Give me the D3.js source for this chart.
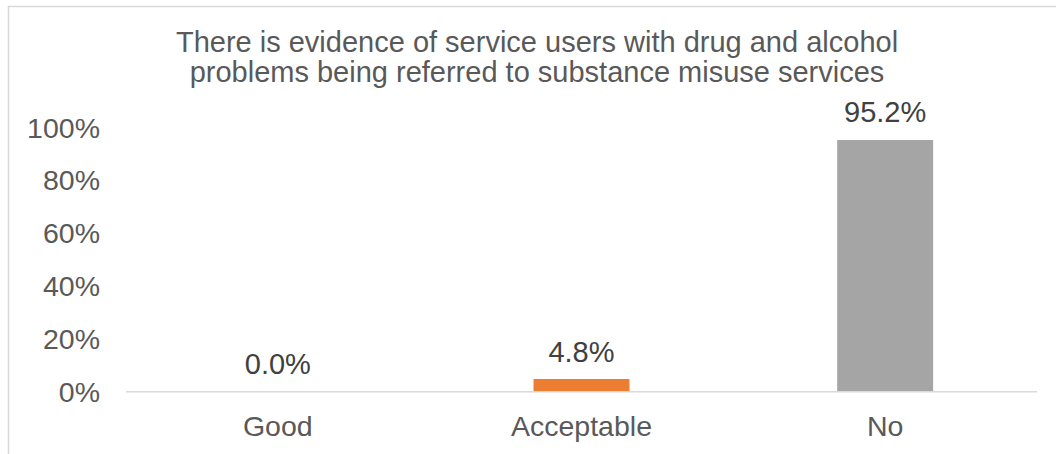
<!DOCTYPE html>
<html>
<head>
<meta charset="utf-8">
<script src="https://cdn.jsdelivr.net/npm/d3@7"></script>
<style>
  body { margin: 0; background: #fff; }
  svg { display: block; font-family: "Liberation Sans", Arial, sans-serif; }
</style>
</head>
<body>
<div id="chart"></div>
<script>
const categories = ['Good', 'Acceptable', 'No'];
const values = [0.0, 0.048, 0.952];
const barColors = ['#4472C4', '#ED7D31', '#A5A5A5'];
const yTicks = [0, 0.2, 0.4, 0.6, 0.8, 1.0];
const titleLines = [
  'There is evidence of service users with drug and alcohol',
  'problems being referred to substance misuse services'
];

const width = 1056;
const height = 454;

const svg = d3.select('#chart')
  .append('svg')
  .attr('width', width)
  .attr('height', height);

// chart area border (cut off at right/bottom like the source)
svg.append('rect')
  .attr('x', 8.5)
  .attr('y', 6.5)
  .attr('width', 1200)
  .attr('height', 600)
  .attr('fill', 'none')
  .attr('stroke', '#D9D9D9')
  .attr('stroke-width', 1.5);

const x = d3.scaleBand()
  .domain(categories)
  .range([126, 1037])
  .padding(0);

const y = d3.scaleLinear()
  .domain([0, 1])
  .range([391.7, 127.3]);

const barW = x.bandwidth() * 0.316;

// title
svg.append('g')
  .selectAll('text')
  .data(titleLines)
  .enter()
  .append('text')
  .attr('x', 537)
  .attr('y', (d, i) => 52 + i * 30)
  .attr('text-anchor', 'middle')
  .attr('font-size', 29)
  .attr('fill', '#595959')
  .text(d => d);

// y axis labels
svg.append('g')
  .selectAll('text')
  .data(yTicks)
  .enter()
  .append('text')
  .attr('x', 100)
  .attr('y', d => y(d))
  .attr('dy', '0.36em')
  .attr('text-anchor', 'end')
  .attr('font-size', 28.5)
  .attr('fill', '#595959')
  .text(d => d3.format('.0%')(d));

// bars
svg.append('g')
  .selectAll('rect')
  .data(values)
  .enter()
  .append('rect')
  .attr('x', (d, i) => x(categories[i]) + x.bandwidth() / 2 - barW / 2)
  .attr('y', d => y(d))
  .attr('width', barW)
  .attr('height', d => y(0) - y(d))
  .attr('fill', (d, i) => barColors[i]);

// baseline
svg.append('line')
  .attr('x1', 126)
  .attr('x2', 1037)
  .attr('y1', y(0))
  .attr('y2', y(0))
  .attr('stroke', '#D9D9D9')
  .attr('stroke-width', 1.5);

// data labels
svg.append('g')
  .selectAll('text')
  .data(values)
  .enter()
  .append('text')
  .attr('x', (d, i) => x(categories[i]) + x.bandwidth() / 2)
  .attr('y', d => y(d) - 17.5)
  .attr('text-anchor', 'middle')
  .attr('font-size', 29)
  .attr('fill', '#404040')
  .text(d => d3.format('.1%')(d));

// category labels
svg.append('g')
  .selectAll('text')
  .data(categories)
  .enter()
  .append('text')
  .attr('x', d => x(d) + x.bandwidth() / 2)
  .attr('y', 436)
  .attr('text-anchor', 'middle')
  .attr('font-size', 28.5)
  .attr('fill', '#595959')
  .text(d => d);
</script>
</body>
</html>
